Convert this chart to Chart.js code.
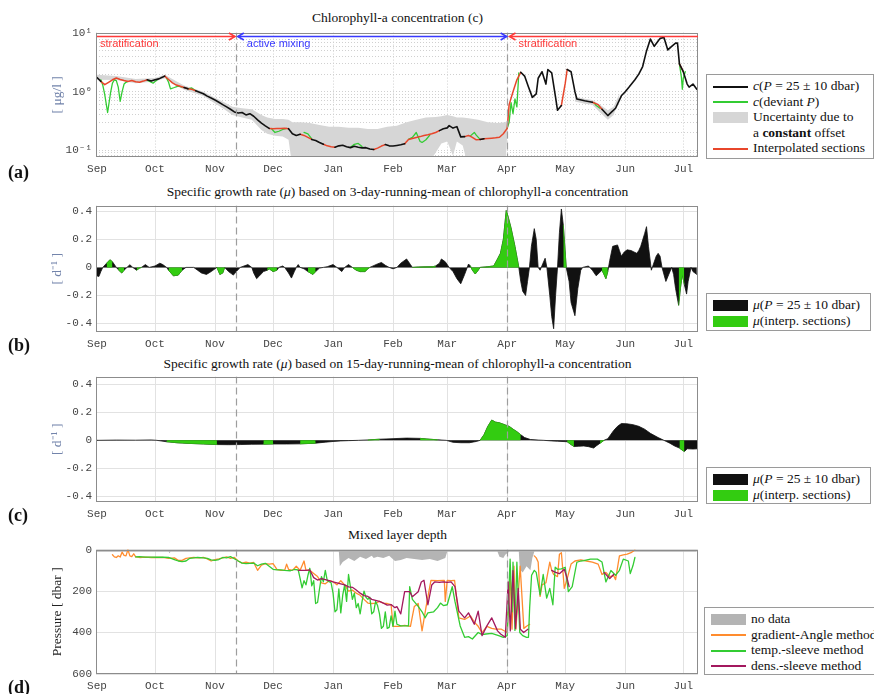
<!DOCTYPE html>
<html>
<head>
<meta charset="utf-8">
<title>Chlorophyll-a float record</title>
<script src="https://cdn.jsdelivr.net/npm/chart.js@4.4.1/dist/chart.umd.min.js"></script>
<style>
  body { margin:0; width:874px; height:694px; overflow:hidden; background:#fff; position:relative;
         font-family:"Liberation Serif","Times New Roman",serif; color:#111; }
  canvas { position:absolute; left:0; }
  .ttl { position:absolute; left:97px; width:601px; text-align:center; font-size:13.5px; line-height:16px; white-space:nowrap; }
  .lbl { position:absolute; left:8px; font-size:18px; font-weight:bold; line-height:20px; }
  .leg { position:absolute; background:#fff; border:1px solid #9a9a9a; font-size:13.5px; white-space:nowrap;
         box-sizing:border-box; padding:3px 0 0 6px; }
  .row { height:15.5px; line-height:15.5px; }
  .sw { display:inline-block; width:35px; margin-right:5px; vertical-align:middle; }
</style>
</head>
<body>
<div class="ttl" style="top:10px">Chlorophyll-a concentration (c)</div>
<div class="ttl" style="top:184px">Specific growth rate (<i>μ</i>) based on 3-day-running-mean of chlorophyll-a concentration</div>
<div class="ttl" style="top:356px">Specific growth rate (<i>μ</i>) based on 15-day-running-mean of chlorophyll-a concentration</div>
<div class="ttl" style="top:527px">Mixed layer depth</div>

<canvas id="cA" width="705" height="157" style="top:22px"></canvas>
<canvas id="cB" width="705" height="159" style="top:195px"></canvas>
<canvas id="cC" width="705" height="158" style="top:366px"></canvas>
<canvas id="cD" width="705" height="157" style="top:539px"></canvas>

<div class="lbl" style="top:162px">(a)</div>
<div class="lbl" style="top:335px">(b)</div>
<div class="lbl" style="top:505px">(c)</div>
<div class="lbl" style="top:677px">(d)</div>

<div class="leg" style="left:706px;top:74px;width:168px;height:85px">
  <div class="row"><span class="sw" style="height:2px;background:#111"></span><i>c</i>(<i>P</i> = 25 ± 10 dbar)</div>
  <div class="row"><span class="sw" style="height:2px;background:#33cc33"></span><i>c</i>(deviant <i>P</i>)</div>
  <div class="row"><span class="sw" style="height:11px;background:#d6d6d6"></span>Uncertainty due to</div>
  <div class="row"><span class="sw" style="height:0"></span>a <b>constant</b> offset</div>
  <div class="row"><span class="sw" style="height:2px;background:#e8462b"></span>Interpolated sections</div>
</div>
<div class="leg" style="left:706px;top:293px;width:165px;height:38px">
  <div class="row"><span class="sw" style="height:11px;background:#111"></span><i>μ</i>(<i>P</i> = 25 ± 10 dbar)</div>
  <div class="row"><span class="sw" style="height:11px;background:#33cc11"></span><i>μ</i>(interp. sections)</div>
</div>
<div class="leg" style="left:706px;top:467px;width:165px;height:37px">
  <div class="row"><span class="sw" style="height:11px;background:#111"></span><i>μ</i>(<i>P</i> = 25 ± 10 dbar)</div>
  <div class="row"><span class="sw" style="height:11px;background:#33cc11"></span><i>μ</i>(interp. sections)</div>
</div>
<div class="leg" style="left:704px;top:607px;width:190px;height:68px">
  <div class="row"><span class="sw" style="height:11px;background:#b4b4b4"></span>no data</div>
  <div class="row"><span class="sw" style="height:2px;background:#ff8c2e"></span>gradient-Angle method</div>
  <div class="row"><span class="sw" style="height:2px;background:#33cc33"></span>temp.-sleeve method</div>
  <div class="row"><span class="sw" style="height:2px;background:#a3185e"></span>dens.-sleeve method</div>
</div>

<script>
// time axis: days since 1 Sep
const monthDays = [0, 30, 61, 91, 122, 153, 181, 212, 242, 273, 303];
const monthLabels = ['Sep', 'Oct', 'Nov', 'Dec', 'Jan', 'Feb', 'Mar', 'Apr', 'May', 'Jun', 'Jul'];
const markerDays = [72, 212];
const dayMin = -0.5, dayMax = 310.6;

// (a) chlorophyll-a
const chlDays = [
  0, 2, 4, 6, 8, 10, 12, 14, 16, 18,
  20, 22, 24, 26, 28, 30, 32, 34, 35, 37,
  39, 41, 43, 45, 47, 49, 51, 53, 55, 57,
  59, 61, 63, 65, 67, 69, 71, 73, 75, 77,
  79, 81, 83, 85, 87, 89, 91, 93, 95, 97,
  99, 101, 103, 105, 107, 109, 111, 113, 115, 117,
  119, 121, 123, 125, 127, 129, 131, 133, 135, 137,
  139, 141, 143, 145, 147, 149, 151, 153, 155, 157,
  159, 161, 163, 165, 167, 169, 171, 173, 175, 177,
  179, 181, 182, 184, 186, 188, 190, 192, 194, 196,
  198, 200, 202, 204, 206, 208, 210, 212, 213, 215,
  217, 219, 221, 223, 225, 227, 228, 230, 232, 233,
  235, 237, 238, 240, 242, 243, 245, 247, 248, 252,
  256, 259, 261, 264, 266, 268, 271, 273, 275, 278,
  280, 282, 284, 286, 288, 290, 291, 293, 295, 297,
  299, 300, 301, 303, 305, 306, 308, 310];
const chlVals = [
  1.75, 1.5, 1.32, 1.45, 1.6, 1.72, 1.62, 1.55, 1.5, 1.56,
  1.48, 1.45, 1.52, 1.6, 1.52, 1.6, 1.66, 1.78, 1.85, 1.62,
  1.42, 1.3, 1.24, 1.18, 1.12, 1.1, 1.04, 0.98, 0.92, 0.84,
  0.78, 0.72, 0.66, 0.6, 0.55, 0.5, 0.45, 0.43, 0.44, 0.4,
  0.42, 0.38, 0.33, 0.29, 0.26, 0.235, 0.232, 0.235, 0.233, 0.236,
  0.232, 0.19, 0.178, 0.186, 0.178, 0.165, 0.152, 0.146, 0.135, 0.126,
  0.118, 0.114, 0.112, 0.118, 0.121, 0.114, 0.11, 0.116, 0.112, 0.109,
  0.11, 0.104, 0.102, 0.108, 0.117, 0.124, 0.118, 0.117, 0.12, 0.123,
  0.128, 0.152, 0.158, 0.164, 0.17, 0.178, 0.183, 0.19, 0.2, 0.215,
  0.232, 0.24, 0.262, 0.238, 0.252, 0.168, 0.17, 0.178, 0.165, 0.15,
  0.152, 0.156, 0.158, 0.16, 0.162, 0.166, 0.19, 0.235, 0.6, 1.0,
  1.6, 2.15, 1.85, 1.2, 0.8, 0.92, 1.7, 2.2, 1.35, 2.4,
  2.1, 0.8, 0.48, 0.58, 1.4, 2.4, 2.2, 1.0, 0.75, 0.7,
  0.66, 0.6, 0.5, 0.39, 0.45, 0.52, 0.85, 1.0, 1.2, 1.6,
  2.0, 2.7, 5.0, 8.0, 6.0, 7.4, 8.2, 8.5, 5.2, 6.0,
  6.8, 6.8, 3.0, 2.2, 1.35, 1.2, 1.35, 1.1];
const chlInterp = [[2, 26], [35, 45], [47, 51], [89, 99], [105, 111], [117, 123], [143, 149],
  [159, 177], [190, 198], [200, 219], [240, 243], [256, 261], [301, 303]];

const devDays = [
  2, 3, 4, 5.5, 7, 8, 9, 10, 11, 12,
  13, 14, 15, 16, 16.5, 26, 28, 29, 30, 31,
  31.5, 36, 37, 38, 40, 42, 44, 44.5, 47, 49,
  51, 51.5, 90, 92, 94, 96, 98, 98.5, 107, 109,
  111, 111.5, 131, 133, 135, 137, 137.5, 161, 163, 165,
  167, 168, 170, 172, 172.5, 193, 195, 196, 198, 198.5,
  212, 213, 214, 215, 216, 217, 218, 218.5, 257, 258,
  260, 260.5, 301, 302, 302.5, 303, 304];
const devVals = [
  1.6, 1.3, 0.9, 0.44, 0.95, 1.4, 1.6, 1.55, 1.2, 0.68,
  1.0, 1.35, 1.45, 1.5, null, 1.58, 1.45, 1.4, 1.5, 1.58,
  null, 1.7, 1.45, 1.12, 1.18, 1.25, 1.2, null, 1.12, 1.16,
  1.04, null, 0.235, 0.2, 0.21, 0.225, 0.235, null, 0.2, 0.19,
  0.155, null, 0.112, 0.125, 0.13, 0.115, null, 0.152, 0.165, 0.2,
  0.14, 0.135, 0.15, 0.18, null, 0.175, 0.2, 0.18, 0.152, null,
  0.235, 0.3, 0.65, 0.42, 0.75, 0.55, 2.1, null, 0.64, 0.58,
  0.52, null, 3.0, 1.8, 1.1, 1.7, 2.2];

const uncDays = [
  0, 10, 20, 30, 35, 45, 55, 60, 65, 70,
  75, 80, 85, 88, 92, 96, 99, 101, 105, 110,
  115, 120, 125, 130, 135, 140, 145, 150, 155, 160,
  165, 170, 175, 178, 181, 184, 186, 189, 192, 197,
  202, 207, 211, 212, 213, 213.5, 247, 252, 256, 260,
  264, 267, 270];
const uncUpper = [
  1.95, 1.85, 1.65, 1.72, 1.95, 1.28, 1.0, 0.82, 0.68, 0.55,
  0.52, 0.5, 0.4, 0.36, 0.34, 0.34, 0.33, 0.3, 0.3, 0.29,
  0.27, 0.25, 0.25, 0.24, 0.24, 0.23, 0.23, 0.25, 0.26, 0.3,
  0.33, 0.36, 0.37, 0.38, 0.4, 0.38, 0.36, 0.36, 0.35, 0.33,
  0.3, 0.29, 0.3, 0.32, 0.7, null, 0.82, 0.76, 0.72, 0.6,
  0.48, 0.55, 0.92];
const uncLower = [
  1.6, 1.58, 1.4, 1.5, 1.7, 1.08, 0.84, 0.66, 0.52, 0.4,
  0.36, 0.33, 0.22, 0.19, 0.175, 0.17, 0.15, 0.05, 0.05, 0.05,
  0.05, 0.05, 0.05, 0.05, 0.05, 0.05, 0.05, 0.05, 0.05, 0.05,
  0.05, 0.05, 0.09, 0.13, 0.14, 0.08, 0.14, 0.12, 0.05, 0.05,
  0.05, 0.05, 0.05, 0.17, 0.5, null, 0.68, 0.62, 0.6, 0.44,
  0.33, 0.4, 0.75];

const chlTickVals = [0.08, 0.09, 0.1, 0.2, 0.3, 0.4, 0.5, 0.6, 0.7, 0.8, 0.9, 1, 2, 3, 4, 5, 6, 7, 8, 9, 10];
const chlTickLabels = ['', '', '10⁻¹', '', '', '', '', '', '', '', '', '10⁰', '', '', '', '', '', '', '', '', '10¹'];

const phaseNames = ['stratification', 'active mixing', 'stratification'];
const phaseStart = [0, 72.8, 213.2];
const phaseEnd = [71.3, 211.7, 310.6];
const phaseHeads = ['end', 'both', 'start'];
const phaseColors = ['#ff3a3a', '#3a3aff', '#ff3a3a'];
const phaseLevel = 8.9;

// (b) growth rate, 3-day running mean
const mu3Days = [
  0, 1, 2, 3, 5, 6.7, 8, 10, 11, 12.8,
  14, 15.5, 17, 18.5, 20.5, 22, 23, 25, 27, 30,
  32.5, 34, 36, 37, 39.5, 42, 44, 46, 50, 52,
  54, 56.6, 59, 61, 62, 63.5, 65, 66, 68, 70.5,
  72, 74, 76, 78, 80, 81, 82.5, 84, 86, 88,
  89, 91, 93, 94, 96, 97, 99, 100.5, 102, 103,
  104, 105, 107, 109, 111.6, 113, 115, 117, 119, 122,
  124, 126.5, 128, 130, 132, 134, 136, 138.5, 140, 141,
  145, 147, 149, 151, 153, 155, 157, 160, 162, 163,
  166, 170, 173.6, 175, 177, 178, 180, 182, 184, 186,
  188, 190, 192, 193, 194, 195.5, 197, 198, 202, 205,
  207, 208.5, 210, 211.5, 212.5, 214, 216, 218, 219, 220,
  221.5, 222.5, 223.5, 224.5, 226, 227, 228, 229, 230.5, 231.6,
  232.5, 234, 235, 236, 237, 238, 239, 240, 241, 242.5,
  244, 245, 247, 248.5, 250, 251, 254, 256, 258, 259.5,
  261, 262, 263, 264, 265, 266.5, 269, 270, 271, 272.5,
  274, 276, 277.5, 279, 280, 281, 283, 284, 285, 286.5,
  287.5, 289, 290, 291, 292, 294, 295.5, 297, 298, 299,
  300.6, 301.5, 302.5, 303.5, 304.7, 305.5, 307, 308, 310];
const mu3Vals = [
  -0.06, -0.065, -0.03, 0, 0.03, 0.054, 0.04, 0, -0.016, -0.04,
  -0.02, 0, 0.019, 0, -0.02, -0.005, 0, 0.02, 0, 0.01,
  0.03, 0.02, 0, -0.02, -0.06, -0.055, -0.02, 0, 0, -0.02,
  -0.04, -0.05, -0.03, -0.01, 0, -0.05, -0.04, 0, -0.03, -0.055,
  -0.03, 0, 0.01, 0.02, 0, -0.04, -0.08, -0.06, -0.03, -0.02,
  -0.01, -0.03, -0.02, 0, 0.01, 0, -0.04, -0.076, -0.03, 0,
  0.02, 0, -0.01, -0.03, -0.05, -0.03, -0.005, 0, 0.005, 0.02,
  0, -0.03, 0, 0.02, 0, -0.02, -0.03, -0.03, -0.01, 0,
  0.025, 0.035, 0.015, 0, -0.01, 0, 0.03, 0.06, 0.02, 0,
  0.003, 0.004, 0.005, 0.01, 0.03, 0.06, 0.04, 0, -0.03, -0.08,
  -0.117, -0.05, 0.024, 0.01, -0.02, -0.047, -0.02, 0, 0.005, 0.01,
  0.06, 0.1, 0.2, 0.405, 0.36, 0.28, 0.15, 0, -0.1, -0.17,
  -0.2, -0.1, 0, 0.15, 0.276, 0.2, 0, -0.02, 0.03, 0.065,
  0, -0.2, -0.35, -0.437, -0.2, 0, 0.25, 0.416, 0.3, 0,
  -0.1, -0.25, -0.344, -0.15, -0.02, 0, 0.01, -0.02, -0.06, -0.04,
  -0.02, -0.05, -0.08, -0.03, 0.05, 0.15, 0.16, 0.12, 0.08, 0.11,
  0.125, 0.12, 0.11, 0.1, 0.12, 0.15, 0.24, 0.29, 0.15, -0.02,
  0.02, 0.08, 0.1, 0.08, 0, -0.1, -0.05, 0, -0.05, -0.15,
  -0.27, -0.15, -0.05, -0.12, -0.19, -0.1, 0, -0.03, -0.05];
const mu3Interp = [[5, 9], [11, 15], [19, 23], [37, 44], [62, 66], [88, 93], [109, 114], [132, 141],
  [163, 176], [193, 198], [202, 207], [208.5, 218], [241, 243], [260, 264], [300, 304]];

// (c) growth rate, 15-day running mean
const mu15Days = [
  0, 10, 20, 28, 31, 36, 42, 48, 55, 62,
  68, 74, 80, 86, 91, 98, 105, 110, 113, 118,
  122, 126, 130, 135, 140, 146, 153, 160, 167, 172,
  176, 180.5, 184, 188, 192.5, 196, 198, 200, 202, 204,
  206, 208, 211, 213, 215, 217, 219, 221, 224, 228,
  231, 235, 238, 243, 245, 246.5, 249, 251.6, 254, 256.7,
  258, 260, 262, 264, 267, 269, 271, 274, 277, 280,
  283, 286, 290, 293, 296, 298.5, 301, 302.5, 303.6, 305,
  308, 310.6];
const mu15Vals = [
  0, 0.002, 0.001, 0.003, 0, -0.01, -0.018, -0.022, -0.026, -0.03,
  -0.031, -0.03, -0.028, -0.027, -0.026, -0.026, -0.025, -0.022, -0.02, -0.013,
  -0.008, -0.004, -0.002, 0, 0.003, 0.008, 0.012, 0.016, 0.014, 0.008,
  0.004, 0, -0.014, -0.017, -0.017, -0.008, 0, 0.04, 0.1, 0.145,
  0.13, 0.125, 0.11, 0.1, 0.08, 0.062, 0.04, 0.02, 0.006, 0.002,
  0, -0.004, -0.006, -0.01, -0.03, -0.044, -0.042, -0.04, -0.045, -0.055,
  -0.04, -0.02, 0, 0.012, 0.07, 0.1, 0.12, 0.118, 0.112, 0.1,
  0.08, 0.05, 0.02, 0, -0.02, -0.04, -0.055, -0.07, -0.08, -0.06,
  -0.062, -0.06];
const mu15Interp = [[36, 48], [55, 62], [86, 91], [105, 113], [140, 146], [167, 176], [198, 204],
  [206, 219], [243, 246.5], [260, 262], [301, 303.6]];

const muTickVals = [-0.4, -0.2, 0, 0.2, 0.4];
const muTickLabels = ['-0.4', '-0.2', '0', '0.2', '0.4'];

// (d) mixed layer depth [dbar]
const noDataDays = [0, 37, 37.5, 38, 125, 125.5, 127, 130, 133, 136, 139, 142, 143, 145, 148, 151, 154, 157, 160,
  164, 168, 172, 176, 180, 181, 207, 208, 210, 211, 213, 218, 218.5, 220, 222, 224, 225, 226, 310];
const noDataDepth = [10, 10, 18, 10, 10, 80, 60, 40, 55, 35, 45, 30, 40, 35, 40, 30, 55, 50, 40,
  45, 50, 45, 55, 40, 10, 10, 35, 40, 25, 10, 10, 95, 110, 80, 100, 40, 10, 10];

const gaDays = [
  8, 9, 10, 11, 12, 13, 14, 15, 16, 17,
  18, 19, 20, 22, 25, 28, 31, 34, 37, 40,
  42, 44, 46, 48, 50, 53, 55, 57, 59, 61,
  63, 65, 67, 69, 71, 73, 75, 77, 79, 81,
  83, 85, 87, 89, 91, 93, 95, 97, 98, 99,
  101, 103, 105, 107, 108, 110, 112, 114, 116, 118,
  120, 122, 124, 126, 128, 130, 132, 134, 136, 138,
  140, 142, 144, 146, 148, 150, 152, 153, 156, 159,
  162, 164, 166, 168, 170, 172.6, 176, 179.5, 180, 181,
  183, 184.8, 187, 190, 193, 195, 197, 199, 201.5, 204,
  206, 209, 212, 213.5, 214.5, 215.5, 216.5, 218.7, 220.6, 222,
  223.6, 225, 226, 227, 228, 229, 230, 232, 234, 235,
  236, 238, 239, 240, 241.5, 243, 245, 247, 250, 253,
  256, 259, 261, 263, 265, 267, 268, 270, 272, 274,
  276, 278];
const gaDepth = [
  25, 35, 38, 30, 36, 12, 28, 30, 0, 30,
  34, 20, 35, 38, 36, 38, 38, 38, 42, 40,
  52, 52, 42, 40, 38, 40, 38, 45, 55, 48,
  45, 40, 35, 42, 38, 55, 65, 60, 65, 62,
  100, 75, 68, 70, 68, 95, 100, 100, 70, 95,
  100, 80, 100, 55, 100, 100, 115, 130, 160, 165,
  150, 155, 170, 150, 170, 200, 195, 210, 220, 240,
  258, 260, 258, 250, 258, 260, 265, 370, 370, 365,
  370, 274, 260, 392, 280, 148, 150, 148, 250, 148,
  150, 148, 329, 337, 320, 350, 370, 400, 370, 380,
  384, 384, 400, 109, 384, 80, 384, 80, 380, 370,
  360, null, 30, 40, 60, 226, 170, 160, 60, 100,
  120, 130, 22, 15, 187, 140, 70, 55, 50, 55,
  60, 70, 120, 110, 130, 125, 145, 30, 25, 22,
  15, 2];

const tsDays = [
  20, 22, 25, 28, 31, 34, 37, 40, 42, 44,
  46, 48, 50, 52, 55, 57, 59, 61, 63, 65,
  67, 69, 71, 73, 75, 77, 79, 81, 83, 85,
  87, 89, 91, 93, 95, 97, 100, 102, 104, 105,
  106, 107, 108, 109, 110, 111, 112, 113, 114, 115,
  116, 117, 118, 119, 121, 122, 123, 124, 125, 126,
  127, 128, 129, 130, 131, 132, 133, 134, 135, 136,
  137, 138, 139, 140, 141, 142, 143, 144, 145, 146,
  147, 148, 149, 150, 151, 152, 153, 154, 155, 157,
  159, 161, 161.6, 163, 166, 168, 169.6, 171, 174, 176,
  177.5, 179, 181, 183.6, 185, 187.7, 190, 192, 194, 197,
  199, 201, 204, 207.6, 210, 212, 213.5, 214.5, 215, 216,
  217, 218.5, 220, 222, 223, 223.6, 224.6, 226, 227, 229,
  230.6, 232.4, 234, 235.6, 236.8, 238, 240, 242, 243.6, 245.6,
  248, 250, 251.6, 255, 258.6, 261, 263, 265.6, 268, 270,
  272, 274.6, 275.6, 277, 278];
const tsDepth = [
  35, 34, 36, 36, 37, 36, 38, 48, 55, 58,
  55, 42, 40, 38, 40, 42, 50, 52, 48, 38,
  40, 34, 44, 55, 65, 68, 66, 65, 78, 70,
  66, 80, 95, 98, 98, 100, 102, 96, 98, 140,
  185, 150, 170, 125, 90, 175, 150, 260, 255, 190,
  130, 155, 100, 150, 160, 210, 300, 290, 190, 305,
  220, 170, 250, 120, 180, 240, 210, 280, 260, 310,
  250, 200, 230, 240, 230, 310, 300, 250, 270, 310,
  380, 370, 300, 380, 375, 320, 370, 297, 360, 368,
  368, 368, 179, 240, 274, 300, 329, 305, 300, 280,
  258, 270, 266, 179, 250, 368, 423, 420, 431, 400,
  410, 407, 404, 415, 423, 415, 46, 300, 61, 390,
  61, 400, 415, 423, 423, 281, 124, 100, 110, 218,
  120, 234, 187, 266, 85, 95, 93, 85, 203, 179,
  61, 55, 53, 46, 46, 60, 156, 101, 124, 100,
  46, 55, 116, 77, 38];

const dsDays = [
  104, 106, 108, 110, 112, 114, 116, 118, 120, 122,
  124, 126, 128, 130, 132, 134, 136, 138, 140, 142,
  144, 146, 148, 150, 152, 154, 155, 157, 159, 161.6,
  163, 166, 167.6, 169, 171, 173, 174.5, 177, 179, 181,
  183, 185, 187, 190, 192, 195, 197, 199, 201.5, 204,
  207, 208.6, 211, 212.5, 213.6, 215, 216.3, 217.7, 218.8, 220.5,
  222.7, 229, 235, 237, 239, 241.5, 243, 244, 250, 262,
  264, 265, 267];
const dsDepth = [
  100, 100, 100, 98, 135, 147, 140, 145, 150, 156,
  160, 165, 170, 180, 182, 195, 210, 222, 226, 240,
  245, 250, 258, 268, 265, 280, 275, 310, 203, 203,
  227, 203, 156, 148, 266, 171, 156, 158, 156, 158,
  156, 179, 297, 329, 305, 360, 297, 415, 368, 329,
  392, 407, 423, 156, 392, 101, 380, 187, 384, 400,
  384, null, 100, 110, 116, 95, 140, 179, null, 110,
  130, 140, 120];

const depthTickVals = [0, 200, 400, 600];

// ---- helpers ----
function pts(days, vals) {
  return days.map((d, i) => ({ x: d, y: vals[i] }));
}
function inside(d, ranges) {
  return ranges.some(r => d >= r[0] && d <= r[1]);
}
function strictlyInside(d, ranges) {
  return ranges.some(r => d > r[0] && d < r[1]);
}
function keepIn(days, vals, ranges) {
  return days.map((d, i) => ({ x: d, y: inside(d, ranges) ? vals[i] : null }));
}
function dropIn(days, vals, ranges) {
  return days.map((d, i) => ({ x: d, y: strictlyInside(d, ranges) ? null : vals[i] }));
}

const mono = { family: '"Liberation Mono", "DejaVu Sans Mono", monospace', size: 11 };
const tickColor = '#454545';

function xScale(gridColor, dash) {
  return {
    type: 'linear', min: dayMin, max: dayMax,
    afterBuildTicks: s => { s.ticks = monthDays.map(v => ({ value: v })); },
    afterFit: s => { s.height = 22; },
    ticks: {
      autoSkip: false, maxRotation: 0, padding: 5, color: tickColor, font: mono,
      callback: v => monthLabels[monthDays.indexOf(v)]
    },
    grid: { color: gridColor, drawTicks: false },
    border: { display: false, dash: dash }
  };
}

function yTitle(text, color) {
  return {
    display: true, text: text, color: color,
    font: { family: '"Liberation Serif", serif', size: 13.5 },
    padding: { top: 49, bottom: 0 }
  };
}

function baseOptions(scales) {
  return {
    responsive: false, animation: false, events: [],
    layout: { padding: { left: 0, right: 7, top: 8, bottom: 0 } },
    plugins: { legend: { display: false }, tooltip: { enabled: false } },
    elements: { point: { radius: 0 }, line: { tension: 0, borderCapStyle: 'round', borderJoinStyle: 'round' } },
    scales: scales
  };
}

// box around the axes plus the dashed season markers
const framePlugin = {
  id: 'frame',
  afterDatasetsDraw(chart) {
    const { ctx, chartArea: a, scales: { x } } = chart;
    ctx.save();
    ctx.beginPath();
    ctx.rect(a.left, a.top, a.width, a.height);
    ctx.clip();
    ctx.strokeStyle = '#9d9d9d';
    ctx.lineWidth = 1.2;
    ctx.setLineDash([7, 4]);
    markerDays.forEach(d => {
      const px = Math.round(x.getPixelForValue(d)) + 0.5;
      ctx.beginPath();
      ctx.moveTo(px, a.top);
      ctx.lineTo(px, a.bottom);
      ctx.stroke();
    });
    ctx.restore();
    ctx.save();
    ctx.strokeStyle = '#8c8c8c';
    ctx.lineWidth = 1;
    ctx.strokeRect(Math.round(a.left) + 0.5, Math.round(a.top) + 0.5, Math.round(a.width) - 1, Math.round(a.height) - 1);
    ctx.restore();
  }
};

// stratification / mixing arrows in panel (a)
const phasePlugin = {
  id: 'phases',
  afterDatasetsDraw(chart) {
    const { ctx, scales: { x, y } } = chart;
    const py = Math.round(y.getPixelForValue(phaseLevel)) + 0.5;
    ctx.save();
    phaseNames.forEach((name, i) => {
      const x1 = x.getPixelForValue(phaseStart[i]);
      const x2 = x.getPixelForValue(phaseEnd[i]);
      ctx.strokeStyle = phaseColors[i];
      ctx.fillStyle = phaseColors[i];
      ctx.lineWidth = 1.6;
      ctx.beginPath();
      ctx.moveTo(x1, py);
      ctx.lineTo(x2, py);
      ctx.stroke();
      const head = phaseHeads[i];
      if (head === 'end' || head === 'both') {
        ctx.beginPath();
        ctx.moveTo(x2 - 6, py - 3.5);
        ctx.lineTo(x2, py);
        ctx.lineTo(x2 - 6, py + 3.5);
        ctx.stroke();
      }
      if (head === 'start' || head === 'both') {
        ctx.beginPath();
        ctx.moveTo(x1 + 6, py - 3.5);
        ctx.lineTo(x1, py);
        ctx.lineTo(x1 + 6, py + 3.5);
        ctx.stroke();
      }
      ctx.font = '11px "Liberation Sans", Arial, sans-serif';
      ctx.textBaseline = 'middle';
      ctx.fillText(name, x1 + (head === 'end' ? 3 : 9), py + 7.5);
    });
    ctx.restore();
  }
};

// ---- (a) ----
new Chart(document.getElementById('cA'), {
  type: 'line',
  data: {
    datasets: [
      { data: pts(uncDays, uncUpper), borderWidth: 0, fill: false, order: 5 },
      { data: pts(uncDays, uncLower), borderWidth: 0, fill: '-1', backgroundColor: '#d6d6d6', order: 4 },
      { data: keepIn(chlDays, chlVals, chlInterp), borderColor: '#e8462b', borderWidth: 1.5, order: 2 },
      { data: pts(devDays, devVals), borderColor: '#33cc33', borderWidth: 1.3, order: 3 },
      { data: dropIn(chlDays, chlVals, chlInterp), borderColor: '#111', borderWidth: 1.6, order: 1 }
    ]
  },
  options: baseOptions({
    x: xScale('#d0d0d0', [1, 2]),
    y: {
      type: 'logarithmic', min: 0.076, max: 10.3,
      afterBuildTicks: s => { s.ticks = chlTickVals.map(v => ({ value: v })); },
      afterFit: s => { s.width = 96; },
      ticks: { autoSkip: false, padding: 4, color: tickColor, font: mono, callback: (v, i) => chlTickLabels[i] },
      grid: { color: '#d0d0d0', drawTicks: false },
      border: { display: false, dash: [1, 2] },
      title: yTitle('[ μg/l ]', '#7384ab')
    }
  }),
  plugins: [framePlugin, phasePlugin]
});

// ---- (b) and (c) ----
function growthChart(id, days, vals, ranges, yMin, yMax) {
  return new Chart(document.getElementById(id), {
    type: 'line',
    data: {
      datasets: [
        { data: keepIn(days, vals, ranges), borderColor: '#33cc11', backgroundColor: '#33cc11',
          borderWidth: 0.6, fill: 'origin', order: 1 },
        { data: pts(days, vals), borderColor: '#111', backgroundColor: '#111',
          borderWidth: 0.8, fill: 'origin', order: 2 }
      ]
    },
    options: baseOptions({
      x: xScale('#e2e2e2'),
      y: {
        type: 'linear', min: yMin, max: yMax,
        afterBuildTicks: s => { s.ticks = muTickVals.map(v => ({ value: v })); },
        afterFit: s => { s.width = 96; },
        ticks: { autoSkip: false, padding: 4, color: tickColor, font: mono, callback: (v, i) => muTickLabels[i] },
        grid: { color: '#e2e2e2', drawTicks: false },
        border: { display: false },
        title: yTitle('[ d⁻¹ ]', '#7384ab')
      }
    }),
    plugins: [framePlugin]
  });
}
growthChart('cB', mu3Days, mu3Vals, mu3Interp, -0.46, 0.44);
growthChart('cC', mu15Days, mu15Vals, mu15Interp, -0.44, 0.455);

// ---- (d) ----
new Chart(document.getElementById('cD'), {
  type: 'line',
  data: {
    datasets: [
      { data: pts(noDataDays, noDataDepth), borderWidth: 0, backgroundColor: '#b4b4b4', fill: 'origin', order: 4 },
      { data: pts(gaDays, gaDepth), borderColor: '#ff8c2e', borderWidth: 1.3, order: 3 },
      { data: pts(tsDays, tsDepth), borderColor: '#33cc33', borderWidth: 1.3, order: 2 },
      { data: pts(dsDays, dsDepth), borderColor: '#a3185e', borderWidth: 1.3, order: 1 }
    ]
  },
  options: baseOptions({
    x: xScale('#e2e2e2'),
    y: {
      type: 'linear', min: 0, max: 600, reverse: true,
      afterBuildTicks: s => { s.ticks = depthTickVals.map(v => ({ value: v })); },
      afterFit: s => { s.width = 96; },
      ticks: { autoSkip: false, padding: 4, color: tickColor, font: mono },
      grid: { color: '#e2e2e2', drawTicks: false },
      border: { display: false },
      title: yTitle('Pressure [ dbar ]', '#222')
    }
  }),
  plugins: [framePlugin]
});
</script>
</body>
</html>
